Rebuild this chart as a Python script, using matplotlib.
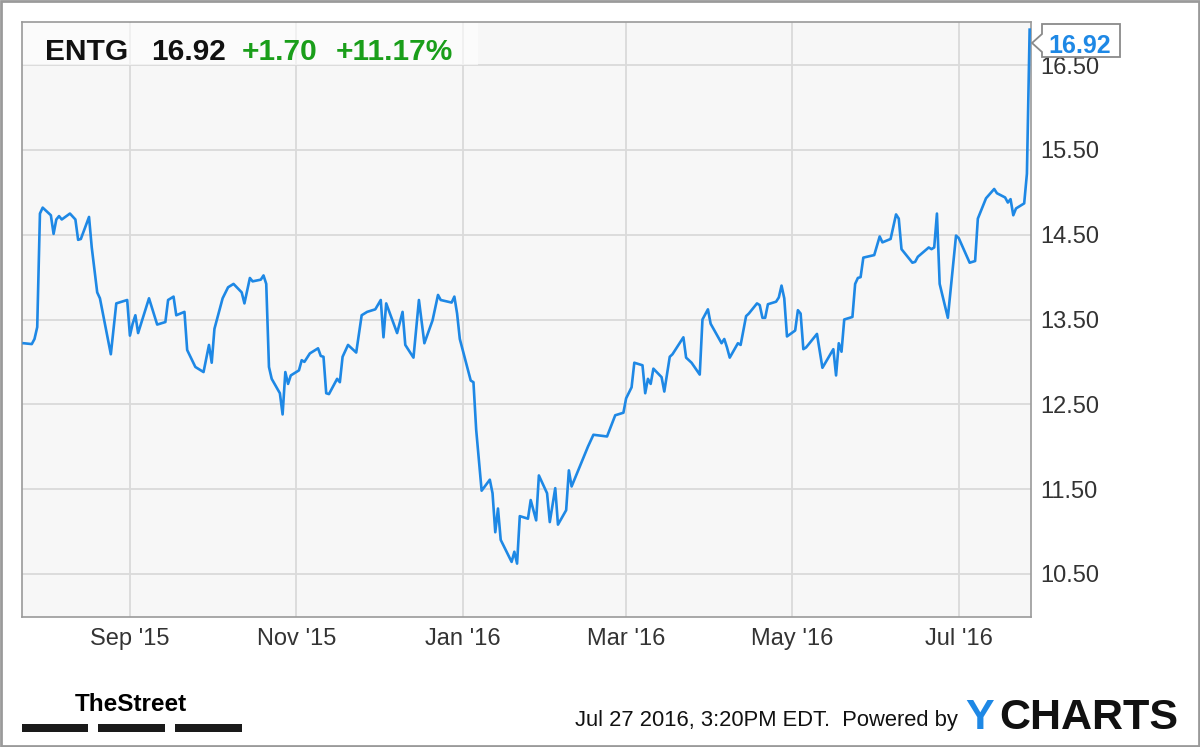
import matplotlib
matplotlib.use("Agg")
import matplotlib.pyplot as plt
import matplotlib.dates as mdates
from matplotlib.patches import Rectangle, Polygon
import pandas as pd

# ---------------- data ----------------
ticker = "ENTG"
last_price = "16.92"
change_abs = "+1.70"
change_pct = "+11.17%"
timestamp_text = "Jul 27 2016, 3:20PM EDT.  Powered by"

dates = [
    "2015-07-24", "2015-07-27", "2015-07-28", "2015-07-29", "2015-07-30", "2015-07-31",
    "2015-08-03", "2015-08-04", "2015-08-05", "2015-08-06", "2015-08-07", "2015-08-10",
    "2015-08-12", "2015-08-13", "2015-08-14", "2015-08-17", "2015-08-18", "2015-08-20",
    "2015-08-21", "2015-08-25", "2015-08-27", "2015-08-31", "2015-09-01", "2015-09-02",
    "2015-09-03", "2015-09-04", "2015-09-08", "2015-09-11", "2015-09-14", "2015-09-15",
    "2015-09-17", "2015-09-18", "2015-09-21", "2015-09-22", "2015-09-25", "2015-09-28",
    "2015-09-30", "2015-10-01", "2015-10-02", "2015-10-05", "2015-10-07", "2015-10-09",
    "2015-10-12", "2015-10-13", "2015-10-15", "2015-10-16", "2015-10-19", "2015-10-20",
    "2015-10-21", "2015-10-22", "2015-10-23", "2015-10-26", "2015-10-27", "2015-10-28",
    "2015-10-29", "2015-10-30", "2015-11-02", "2015-11-03", "2015-11-04", "2015-11-06",
    "2015-11-09", "2015-11-10", "2015-11-11", "2015-11-12", "2015-11-13", "2015-11-16",
    "2015-11-17", "2015-11-18", "2015-11-20", "2015-11-23", "2015-11-25", "2015-11-27",
    "2015-11-30", "2015-12-02", "2015-12-03", "2015-12-04", "2015-12-08", "2015-12-10",
    "2015-12-11", "2015-12-14", "2015-12-16", "2015-12-18", "2015-12-21", "2015-12-23",
    "2015-12-24", "2015-12-28", "2015-12-29", "2015-12-30", "2015-12-31", "2016-01-04",
    "2016-01-05", "2016-01-06", "2016-01-08", "2016-01-11", "2016-01-12", "2016-01-13",
    "2016-01-14", "2016-01-15", "2016-01-19", "2016-01-20", "2016-01-21", "2016-01-22",
    "2016-01-25", "2016-01-26", "2016-01-28", "2016-01-29", "2016-02-01", "2016-02-02",
    "2016-02-04", "2016-02-05", "2016-02-08", "2016-02-09", "2016-02-10", "2016-02-16",
    "2016-02-18", "2016-02-23", "2016-02-26", "2016-02-29", "2016-03-01", "2016-03-03",
    "2016-03-04", "2016-03-07", "2016-03-08", "2016-03-09", "2016-03-10", "2016-03-11",
    "2016-03-14", "2016-03-15", "2016-03-17", "2016-03-18", "2016-03-22", "2016-03-23",
    "2016-03-25", "2016-03-28", "2016-03-29", "2016-03-31", "2016-04-01", "2016-04-05",
    "2016-04-06", "2016-04-07", "2016-04-08", "2016-04-11", "2016-04-12", "2016-04-14",
    "2016-04-15", "2016-04-18", "2016-04-19", "2016-04-20", "2016-04-21", "2016-04-22",
    "2016-04-25", "2016-04-26", "2016-04-27", "2016-04-28", "2016-04-29", "2016-05-02",
    "2016-05-03", "2016-05-04", "2016-05-05", "2016-05-06", "2016-05-10", "2016-05-12",
    "2016-05-16", "2016-05-17", "2016-05-18", "2016-05-19", "2016-05-20", "2016-05-23",
    "2016-05-24", "2016-05-25", "2016-05-26", "2016-05-27", "2016-05-31", "2016-06-02",
    "2016-06-03", "2016-06-06", "2016-06-08", "2016-06-09", "2016-06-10", "2016-06-14",
    "2016-06-15", "2016-06-16", "2016-06-20", "2016-06-21", "2016-06-22", "2016-06-23",
    "2016-06-24", "2016-06-27", "2016-06-30", "2016-07-01", "2016-07-05", "2016-07-07",
    "2016-07-08", "2016-07-11", "2016-07-14", "2016-07-15", "2016-07-18", "2016-07-19",
    "2016-07-20", "2016-07-21", "2016-07-22", "2016-07-25", "2016-07-26", "2016-07-27",
]

prices = [
    13.22, 13.21, 13.27, 13.41, 14.75, 14.82,
    14.73, 14.51, 14.68, 14.72, 14.68, 14.75,
    14.68, 14.44, 14.45, 14.71, 14.35, 13.82,
    13.75, 13.09, 13.69, 13.73, 13.31, 13.45,
    13.55, 13.34, 13.75, 13.44, 13.47, 13.73,
    13.77, 13.55, 13.59, 13.14, 12.94, 12.88,
    13.20, 12.99, 13.39, 13.75, 13.88, 13.92,
    13.82, 13.69, 13.99, 13.95, 13.97, 14.02,
    13.92, 12.94, 12.80, 12.63, 12.38, 12.88,
    12.74, 12.84, 12.90, 13.02, 13.00, 13.10,
    13.16, 13.07, 13.06, 12.63, 12.62, 12.80,
    12.76, 13.06, 13.20, 13.11, 13.55, 13.59,
    13.62, 13.73, 13.29, 13.69, 13.34, 13.59,
    13.20, 13.05, 13.73, 13.22, 13.49, 13.79,
    13.73, 13.70, 13.77, 13.57, 13.27, 12.78,
    12.76, 12.20, 11.48, 11.61, 11.45, 10.99,
    11.27, 10.90, 10.64, 10.76, 10.62, 11.18,
    11.15, 11.37, 11.13, 11.66, 11.45, 11.11,
    11.51, 11.08, 11.25, 11.72, 11.53, 12.00,
    12.14, 12.12, 12.37, 12.40, 12.57, 12.70,
    12.99, 12.96, 12.63, 12.80, 12.74, 12.92,
    12.82, 12.65, 13.06, 13.09, 13.29, 13.05,
    12.99, 12.85, 13.50, 13.62, 13.45, 13.22,
    13.27, 13.17, 13.05, 13.22, 13.20, 13.54,
    13.57, 13.69, 13.67, 13.52, 13.52, 13.68,
    13.71, 13.76, 13.90, 13.75, 13.30, 13.37,
    13.61, 13.57, 13.15, 13.17, 13.33, 12.93,
    13.15, 12.84, 13.22, 13.12, 13.50, 13.53,
    13.92, 13.99, 14.00, 14.23, 14.26, 14.48,
    14.41, 14.45, 14.74, 14.69, 14.33, 14.17,
    14.18, 14.24, 14.35, 14.33, 14.35, 14.75,
    13.92, 13.52, 14.49, 14.46, 14.17, 14.19,
    14.69, 14.93, 15.04, 14.99, 14.94, 14.88,
    14.92, 14.73, 14.81, 14.87, 15.22, 16.92,
]

y_ticks = [10.5, 11.5, 12.5, 13.5, 14.5, 15.5, 16.5]
tick_months = [1, 3, 5, 7, 9, 11]

# ---------------- style ----------------
W, H = 1200, 747
FONT = "Liberation Sans"
BLUE = "#1e88e5"
GREEN = "#1a9e1a"

plt.rcParams["font.family"] = [FONT, "DejaVu Sans"]

fig = plt.figure(figsize=(W / 100, H / 100), dpi=100)
fig.patch.set_facecolor("white")


def fx(px):
    return px / W


def fy(py):
    return 1 - py / H


ax = fig.add_axes([fx(22), fy(617), fx(1031) - fx(22), fy(22) - fy(617)])
ax.set_facecolor("#f7f7f7")

x = pd.to_datetime(dates)
ax.plot(x, prices, color=BLUE, lw=1.9, solid_joinstyle="round", zorder=3)

ax.set_xlim(pd.Timestamp("2015-07-23 10:00"), pd.Timestamp("2016-07-27 12:00"))
ax.set_ylim(9.99, 17.01)

ax.yaxis.tick_right()
ax.set_yticks(y_ticks)
ax.set_yticklabels([f"{v:.2f}" for v in y_ticks])
ax.xaxis.set_major_locator(mdates.MonthLocator(bymonth=tick_months))
ax.xaxis.set_major_formatter(mdates.DateFormatter("%b '%y"))
ax.tick_params(axis="both", length=0, labelsize=17, colors="#333333")
ax.tick_params(axis="y", pad=7)
ax.tick_params(axis="x", pad=8)

ax.grid(True, color="#dadada", lw=1.3)
ax.set_axisbelow(True)
for s in ax.spines.values():
    s.set_color("#9a9a9a")
    s.set_linewidth(1.2)

# header box
fig.patches.append(Rectangle((fx(23), fy(65)), fx(478) - fx(23), fy(23) - fy(65),
                             transform=fig.transFigure, facecolor="white", alpha=0.6,
                             edgecolor="none", zorder=5))
hy = fy(59.5)
hfs = 21.5
fig.text(fx(45), hy, ticker, fontsize=hfs, fontweight="bold", color="#111111",
         va="baseline", ha="left", zorder=6)
fig.text(fx(151), hy, last_price, fontsize=hfs, fontweight="bold", color="#111111",
         va="baseline", ha="left", zorder=6)
fig.text(fx(242), hy, change_abs, fontsize=hfs, fontweight="bold", color=GREEN,
         va="baseline", ha="left", zorder=6)
fig.text(fx(336), hy, change_pct, fontsize=hfs, fontweight="bold", color=GREEN,
         va="baseline", ha="left", zorder=6)

# last price callout
call = [(1032, 43), (1042, 34), (1042, 24), (1120, 24), (1120, 57), (1042, 57), (1042, 52)]
fig.patches.append(Polygon([(fx(a), fy(b)) for a, b in call], closed=True,
                           transform=fig.transFigure, facecolor="white",
                           edgecolor="#8a8a8a", lw=1.3, zorder=7))
fig.text(fx(1080), fy(53), last_price, fontsize=18, fontweight="bold", color=BLUE,
         ha="center", va="baseline", zorder=8)

# footer
fig.text(fx(131), fy(711), "TheStreet", fontsize=17.5, fontweight="bold",
         color="black", ha="center", va="baseline")
for a, b in [(22, 88), (98, 165), (175, 242)]:
    fig.patches.append(Rectangle((fx(a), fy(732)), fx(b) - fx(a), fy(724) - fy(732),
                                 transform=fig.transFigure, facecolor="#1a1a1a",
                                 edgecolor="none"))
fig.text(fx(958), fy(726), timestamp_text, fontsize=15.8,
         color="#111111", ha="right", va="baseline")
fig.text(fx(965), fy(729), "Y", fontsize=31, fontweight="bold", color=BLUE,
         ha="left", va="baseline")
fig.text(fx(1178), fy(729), "CHARTS", fontsize=31, fontweight="bold", color="#111111",
         ha="right", va="baseline")

# outer frame
fig.patches.append(Rectangle((0.0008, 0.0013), 0.9984, 0.9974, transform=fig.transFigure,
                             facecolor="none", edgecolor="#9a9a9a", lw=2.0))

fig.savefig("out.png", dpi=100, facecolor="white")
